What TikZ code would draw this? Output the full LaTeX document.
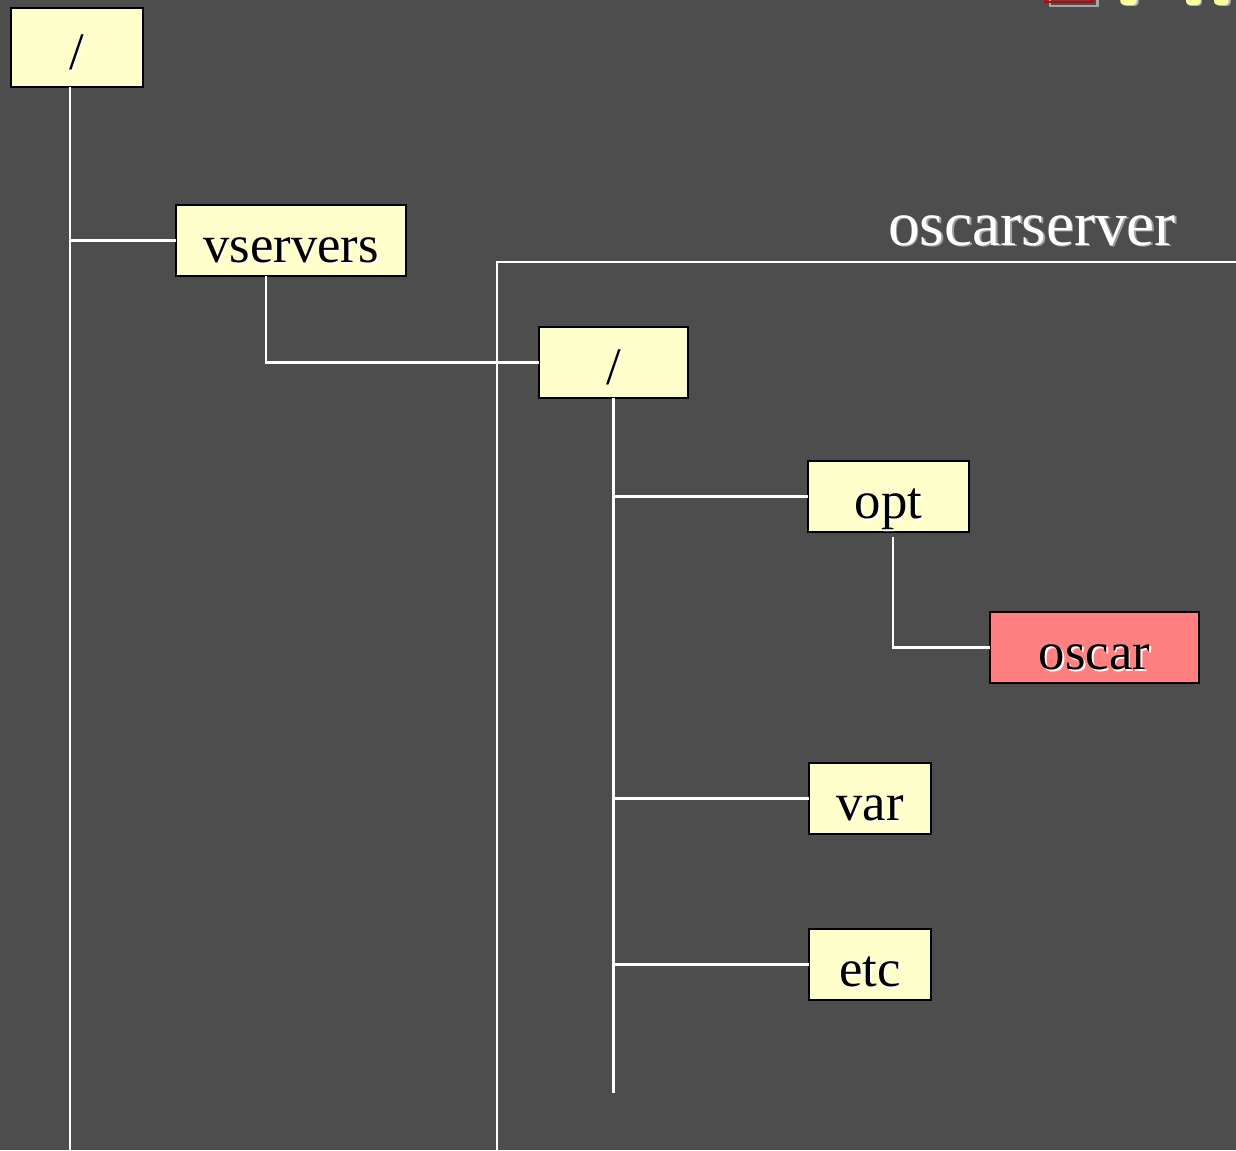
\documentclass[tikz,border=0pt]{standalone}
\usepackage{fontspec}
\setmainfont{Liberation Serif}
\usepackage{tikz}
\usetikzlibrary{positioning}

\definecolor{slidebg}{HTML}{4D4D4D}
\definecolor{dirfill}{HTML}{FFFFCC}
\definecolor{hotfill}{HTML}{FF8080}
\definecolor{titleyellow}{HTML}{FFFF99}

% text with a light drop shadow
\newcommand{\shtxt}[2]{\makebox[0pt][l]{\hspace{1pt}\raisebox{-1pt}{\color{#1}#2}}#2}
\newcommand{\boxtxt}[1]{\raisebox{0pt}[0.88cm][0pt]{\shtxt{white}{#1}}}

\tikzset{
  dirbox/.style={draw=black, line width=1.2pt, fill=dirfill, inner sep=0pt, outer sep=0pt,
    minimum height=1.42cm, font=\fontsize{30}{30}\selectfont, text=black},
  branch/.style={draw=white, line width=1.3pt}
}

\begin{document}
\begin{tikzpicture}
                    \useasboundingbox (0,0) rectangle (24.72,-23);
                    \fill[slidebg] (0,0) rectangle (24.72,-23);
                    % cut-off slide title
                    \draw[gray!70, line width=1.2pt] (21.0,-0.12) rectangle (21.95,0.6);
                    \draw[red!80!black, line width=1.2pt] (20.9,-0.04) rectangle (21.85,0.6);
                    \node[anchor=base west, inner sep=0pt, text=titleyellow,
                          font=\fontsize{64}{64}\selectfont\sffamily\bfseries] (title) at (22.2,-0.1)
                          {\shtxt{gray!60}{File}};
                    % tree
                    \node[dirbox, minimum width=2.64cm, minimum height=1.58cm] (root) at (1.54,-0.95) {\boxtxt{/}};
                    \node[dirbox, minimum width=4.6cm, below right=2.36cm and 0.66cm of root] (vservers) {\boxtxt{vservers}};
                    \node[dirbox, minimum width=2.98cm, below right=1.02cm and 2.66cm of vservers] (vroot) {\boxtxt{/}};
                    \node[dirbox, minimum width=3.22cm, below right=1.26cm and 2.4cm of vroot] (opt) {\boxtxt{opt}};
                    \node[dirbox, minimum width=4.18cm, fill=hotfill, below right=1.6cm and 0.42cm of opt] (oscar) {\boxtxt{oscar}};
                    \node[dirbox, minimum width=2.44cm, below=4.62cm of opt.south west, anchor=north west, xshift=0.02cm] (var) {\boxtxt{var}};
                    \node[dirbox, minimum width=2.44cm, below=1.9cm of var] (etc) {\boxtxt{etc}};
                    % guest server frame
                    \coordinate (frame) at (9.94,-5.24);
                    \node[text=white, font=\fontsize{36}{36}\selectfont, anchor=base] (srvname) at (20.64,-4.9) {\shtxt{gray!75}{oscarserver}};
                    \draw[branch] (24.72,-5.24) -- (frame) -- (frame |- 0,-23);
                    % connectors
                    \draw[branch] ([xshift=-0.14cm]root.south) -- ++(0,-21.26);
                    \draw[branch] ([xshift=-0.14cm]root.south |- vservers.west) -- (vservers.west);
                    \draw[branch] ([xshift=-0.5cm]vservers.south) |- (vroot.west);
                    \draw[branch] (vroot.south) -- ++(0,-13.9);
                    \draw[branch] (vroot.south |- opt.west) -- (opt.west);
                    \draw[branch] (vroot.south |- var.west) -- (var.west);
                    \draw[branch] (vroot.south |- etc.west) -- (etc.west);
                    \draw[branch] ([xshift=0.09cm,yshift=-0.1cm]opt.south) |- (oscar.west);
                \end{tikzpicture}
\end{document}
